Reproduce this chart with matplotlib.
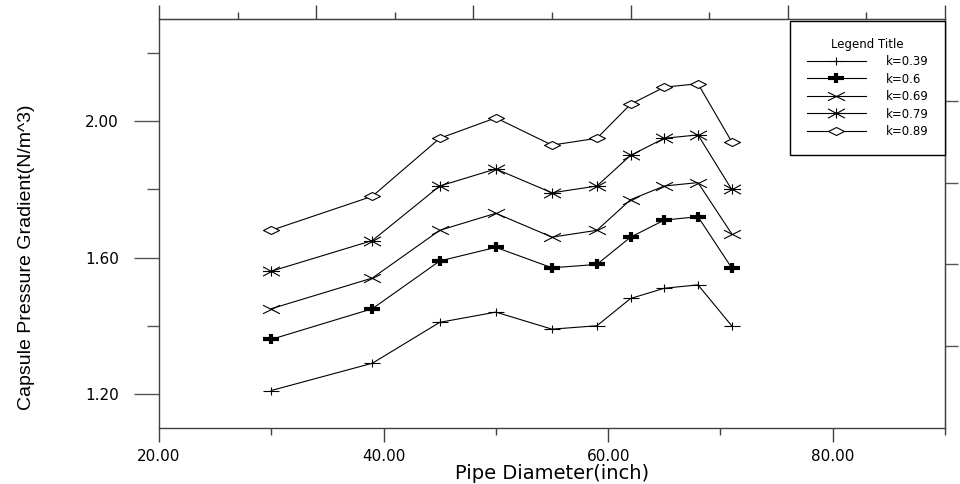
import matplotlib
matplotlib.use('Agg')
import matplotlib.pyplot as plt
from matplotlib.path import Path
from matplotlib.ticker import MultipleLocator, FixedLocator

# pipe diameters (inch)
diam = [30, 39, 45, 50, 55, 59, 62, 65, 68, 71]

# capsule pressure gradient for each k
k039 = [1.21, 1.29, 1.41, 1.44, 1.39, 1.40, 1.48, 1.51, 1.52, 1.40]
k060 = [1.36, 1.45, 1.59, 1.63, 1.57, 1.58, 1.66, 1.71, 1.72, 1.57]
k069 = [1.45, 1.54, 1.68, 1.73, 1.66, 1.68, 1.77, 1.81, 1.82, 1.67]
k079 = [1.56, 1.65, 1.81, 1.86, 1.79, 1.81, 1.90, 1.95, 1.96, 1.80]
k089 = [1.68, 1.78, 1.95, 2.01, 1.93, 1.95, 2.05, 2.10, 2.11, 1.94]

labels = ['k=0.39', 'k=0.6', 'k=0.69', 'k=0.79', 'k=0.89']
series = [k039, k060, k069, k079, k089]

M, L = Path.MOVETO, Path.LINETO

# flat markers, wider than tall
plus = Path([(-1, 0), (1, 0), (0, -0.55), (0, 0.55)], [M, L, M, L])
cross = Path([(-1, -0.5), (1, 0.5), (-1, 0.5), (1, -0.5)], [M, L, M, L])
star = Path([(-1, -0.55), (1, 0.55), (-1, 0.55), (1, -0.55),
             (0, -0.6), (0, 0.6), (-1, 0), (1, 0)], [M, L, M, L, M, L, M, L])
diamond = Path([(-1, 0), (0, 0.5), (1, 0), (0, -0.5), (-1, 0)],
               [M, L, L, L, Path.CLOSEPOLY])

styles = [
    dict(marker=plus, ms=11.5, mew=0.8, mfc='none'),
    dict(marker=plus, ms=12.2, mew=3.0, mfc='none'),
    dict(marker=cross, ms=12.2, mew=0.8, mfc='none'),
    dict(marker=star, ms=12.2, mew=0.8, mfc='none'),
    dict(marker=diamond, ms=11.5, mew=0.8, mfc='white'),
]

plt.rcParams['font.family'] = ['DejaVu Sans']
spine_col = '#404040'

fig = plt.figure(figsize=(9.6, 4.84), dpi=100)
ax = fig.add_axes([159 / 960, 1 - 428 / 484, 786 / 960, 409 / 484])

for vals, lab, st in zip(series, labels, styles):
    ax.plot(diam, vals, color='black', lw=0.8, mec='black', label=lab, **st)

ax.set_xlim(20, 90)
ax.set_ylim(1.10, 2.30)

ax.xaxis.set_major_locator(FixedLocator([20, 40, 60, 80]))
ax.xaxis.set_minor_locator(FixedLocator([30, 50, 70, 90]))
ax.yaxis.set_major_locator(FixedLocator([1.2, 1.6, 2.0]))
ax.yaxis.set_minor_locator(FixedLocator([1.4, 1.8, 2.2]))
ax.xaxis.set_major_formatter(lambda v, p: '%.2f' % v)
ax.yaxis.set_major_formatter(lambda v, p: '%.2f' % v)

ax.tick_params(axis='x', which='major', direction='out', length=10, width=1,
               color=spine_col, pad=5, labelsize=11)
ax.tick_params(axis='x', which='minor', direction='out', length=5, width=1,
               color=spine_col)
ax.tick_params(axis='y', which='major', direction='out', length=18, width=1,
               color='#555555', pad=11, labelsize=11)
ax.tick_params(axis='y', which='minor', direction='out', length=8.5, width=1,
               color='#555555')

for s in ax.spines.values():
    s.set_color(spine_col)
    s.set_linewidth(1)

# unlabelled scales on top and right
top = ax.secondary_xaxis('top', functions=(lambda x: (x - 20) / 7.0,
                                            lambda t: t * 7.0 + 20))
top.xaxis.set_major_locator(MultipleLocator(2))
top.xaxis.set_minor_locator(MultipleLocator(1))
top.tick_params(which='major', direction='out', length=10, width=1,
                color=spine_col, labeltop=False)
top.tick_params(which='minor', direction='out', length=5, width=1,
                color=spine_col)
top.spines['top'].set_color(spine_col)

right = ax.secondary_yaxis('right', functions=(lambda y: (y - 1.1) / 1.2 * 5,
                                                lambda t: t * 1.2 / 5 + 1.1))
right.yaxis.set_major_locator(FixedLocator([1, 2, 3, 4]))
right.tick_params(direction='out', length=9.5, width=1, color='#555555',
                  labelright=False)
right.spines['right'].set_color(spine_col)

ax.set_xlabel('Pipe Diameter(inch)', fontsize=14, labelpad=0)
fig.text(27 / 960, 1 - 257 / 484, 'Capsule Pressure Gradient(N/m^3)',
         rotation=90, ha='center', va='center', fontsize=14,
         family=['Liberation Sans', 'DejaVu Sans'])

leg = ax.legend(loc='upper right', bbox_to_anchor=(1.0, 0.995), borderaxespad=0,
                title='Legend Title', fontsize=8.5, title_fontsize=8.5,
                handlelength=5.0, handletextpad=1.7, borderpad=1.4,
                labelspacing=0.38, fancybox=False, framealpha=1,
                edgecolor='black')
leg.get_frame().set_linewidth(1)

fig.savefig('out.png', dpi=100)
